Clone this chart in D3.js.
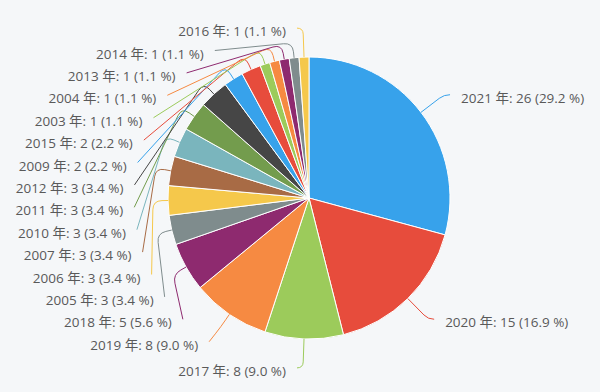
<!DOCTYPE html>
<html>
<head>
<meta charset="utf-8">
<script src="https://cdn.jsdelivr.net/npm/d3@7"></script>
<style>
  html, body { margin: 0; padding: 0; background: #f5f7f9; }
  svg { display: block; }
</style>
</head>
<body>
<svg id="chart"></svg>
<script>
const width = 600
const height = 392

// data, in drawing order (clockwise from 12 o'clock)
const years = ['2021', '2020', '2017', '2019', '2018', '2005', '2006', '2007', '2010',
    '2011', '2012', '2009', '2015', '2003', '2004', '2013', '2014', '2016']
const counts = [26, 15, 8, 8, 5, 3, 3, 3, 3, 3, 3, 2, 2, 1, 1, 1, 1, 1]
const palette = ['#37a2eb', '#e74c3c', '#9ccb5b', '#f68a42', '#8e2a6f', '#7f8c8d',
    '#f5c84b', '#a86b45', '#7ab5bd', '#739c4d', '#464646']

const cx = 309, cy = 198
const radius = 141
const elbowR = radius + 15      // where the connector turns
const naturalR = 170            // label spot before any stacking
const labelR = 175              // circle used for stacked labels
const hook = 6                  // short horizontal end on unmoved labels
const gap = 11                  // connector end -> text
const spacing = 22.4            // min distance between stacked labels
const topY = 27, bottomY = 368
const eps = 1e-6

const total = d3.sum(counts)
const data = years.map((y, i) => ({ year: y, count: counts[i] }))

let svg = d3.select('#chart')
    .attr('width', width)
    .attr('height', height)

svg.append('rect')
    .attr('width', width)
    .attr('height', height)
    .attr('fill', '#f5f7f9')

const color = d3.scaleOrdinal().range(palette)

const pie = d3.pie().sort(null).value(d => d.count)
const arc = d3.arc().innerRadius(0).outerRadius(radius)
const arcs = pie(data)

const g = svg.append('g').attr('transform', `translate(${cx}, ${cy})`)

g.selectAll('path.slice')
    .data(arcs)
    .join('path')
    .attr('class', 'slice')
    .attr('d', arc)
    .attr('fill', (d, i) => color(i))
    .attr('stroke', '#fff')
    .attr('stroke-width', 1)

// label layout: natural spot on a circle, then stack each side so labels don't overlap
arcs.forEach((d, i) => {
    d.index = i
    d.mid = (d.startAngle + d.endAngle) / 2
    d.dir = Math.sin(d.mid) < 0 ? -1 : 1
    d.nx = cx + Math.sin(d.mid) * naturalR
    d.ny = cy - Math.cos(d.mid) * naturalR
    d.y = d.ny
    d.pushed = false
})

const sides = [arcs.filter(d => d.dir < 0), arcs.filter(d => d.dir > 0)]
sides.forEach(list => {
    list.sort((a, b) => a.ny - b.ny)
    list.forEach((d, i) => {
        let y = Math.max(d.ny, topY)
        if (i > 0 && list[i - 1].y + spacing > y + eps) {
            y = list[i - 1].y + spacing
            d.pushed = true
        }
        d.y = y
    })
    for (let i = list.length - 1; i >= 0; i--) {
        const d = list[i]
        let y = Math.min(d.y, bottomY)
        if (i < list.length - 1 && list[i + 1].y - spacing < y - eps) {
            y = list[i + 1].y - spacing
            d.pushed = true
        }
        d.y = y
    }
    list.forEach(d => {
        if (d.pushed) {
            const dy = d.y - cy
            d.x = cx + d.dir * Math.sqrt(Math.max(0, labelR * labelR - dy * dy))
        } else {
            d.x = d.nx + d.dir * hook
        }
    })
})

function connector(d) {
    const s = Math.sin(d.mid), c = -Math.cos(d.mid)
    const p0 = [cx + s * radius, cy + c * radius]
    const p1 = d.pushed ? [cx + s * elbowR, cy + c * elbowR] : [d.nx, d.y]
    const p2 = [d.x, d.y]
    const d1 = Math.hypot(p1[0] - p0[0], p1[1] - p0[1])
    const d2 = Math.hypot(p2[0] - p1[0], p2[1] - p1[1])
    const rad = d.pushed ? Math.min(9, d1 * 0.7, d2 / 2) : Math.min(8, d1 / 2, d2)
    const a = [p1[0] - (p1[0] - p0[0]) / d1 * rad, p1[1] - (p1[1] - p0[1]) / d1 * rad]
    const b = [p1[0] + (p2[0] - p1[0]) / d2 * rad, p1[1] + (p2[1] - p1[1]) / d2 * rad]
    const path = d3.path()
    path.moveTo(p0[0], p0[1])
    path.lineTo(a[0], a[1])
    path.quadraticCurveTo(p1[0], p1[1], b[0], b[1])
    path.lineTo(p2[0], p2[1])
    return path.toString()
}

svg.append('g')
    .selectAll('path')
    .data(arcs)
    .join('path')
    .attr('d', connector)
    .attr('fill', 'none')
    .attr('stroke', d => color(d.index))
    .attr('stroke-width', 1)

svg.append('g')
    .selectAll('text')
    .data(arcs)
    .join('text')
    .attr('x', d => d.x + d.dir * gap)
    .attr('y', d => d.y + 3)
    .attr('dominant-baseline', 'central')
    .attr('text-anchor', d => d.dir < 0 ? 'end' : 'start')
    .style('font-family', "'Open Sans', 'Noto Sans CJK JP', sans-serif")
    .style('font-size', '13.5px')
    .attr('fill', '#595959')
    .text(d => `${d.data.year} 年: ${d.data.count} (${(d.data.count / total * 100).toFixed(1)} %)`)
</script>
</body>
</html>
